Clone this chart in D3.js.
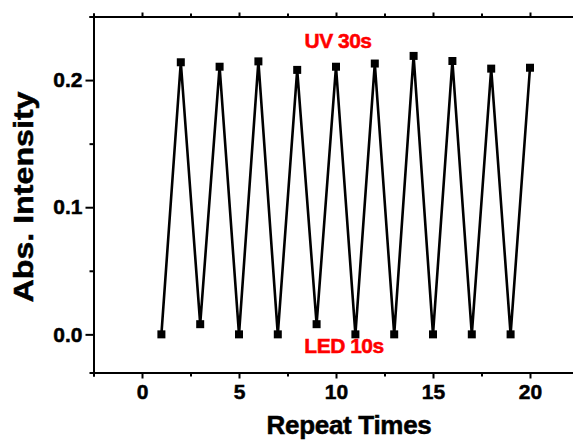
<!DOCTYPE html>
<html>
<head>
<meta charset="utf-8">
<script src="https://cdn.jsdelivr.net/npm/d3@7"></script>
<style>
  body { margin: 0; background: #fff; }
  svg { display: block; font-family: "Liberation Sans", Arial, sans-serif; font-weight: bold; }
  .axis path, .axis line { stroke: #000; stroke-width: 2; }
  .axis text { font-size: 21px; font-weight: bold; fill: #000; stroke: #000; stroke-width: 0.5px; }
  .heavy { stroke-width: 0.5px; }
</style>
</head>
<body>
<svg id="chart" width="573" height="442"></svg>
<script>
// data
var repeatIdx = [1, 2, 3, 4, 5, 6, 7, 8, 9, 10, 11, 12, 13, 14, 15, 16, 17, 18, 19, 20];
var absValues = [0.000, 0.214, 0.008, 0.2105, 0.000, 0.2147, 0.000, 0.208, 0.008, 0.2105,
                 0.000, 0.213, 0.000, 0.219, 0.000, 0.215, 0.000, 0.209, 0.000, 0.2097];
var xTicks = [0, 5, 10, 15, 20];
var xMinor = [-2.5, 2.5, 7.5, 12.5, 17.5, 22.5];
var yTicks = [0.0, 0.1, 0.2];
var yMinor = [0.05, 0.15, 0.25];
var labelUV = "UV 30s";
var labelLED = "LED 10s";

var svg = d3.select("#chart");
var margin = {top: 16.5, left: 93.5, bottom: 372.5, right: 578.5};

var xScale = d3.scaleLinear()
    .domain([-2.5, 22.5])
    .range([margin.left, margin.right]);

var yScale = d3.scaleLinear()
    .domain([-0.03, 0.25])
    .range([margin.bottom, margin.top]);

// bottom axis
svg.append("g")
    .attr("class", "x axis")
    .attr("transform", "translate(0," + margin.bottom + ")")
    .call(d3.axisBottom(xScale).tickValues(xTicks).tickSizeInner(6).tickSizeOuter(0).tickPadding(6).tickFormat(d3.format("d")));
svg.append("g")
    .attr("class", "x axis minor")
    .attr("transform", "translate(0," + margin.bottom + ")")
    .call(d3.axisBottom(xScale).tickValues(xMinor).tickSize(4).tickFormat(""));

// top axis, no labels
svg.append("g")
    .attr("class", "x axis")
    .attr("transform", "translate(0," + margin.top + ")")
    .call(d3.axisTop(xScale).tickValues(xTicks).tickSizeInner(4).tickSizeOuter(0).tickFormat(""));
svg.append("g")
    .attr("class", "x axis minor")
    .attr("transform", "translate(0," + margin.top + ")")
    .call(d3.axisTop(xScale).tickValues(xMinor).tickSize(3).tickFormat(""));

// left axis
svg.append("g")
    .attr("class", "y axis")
    .attr("transform", "translate(" + margin.left + ",0)")
    .call(d3.axisLeft(yScale).tickValues(yTicks).tickSizeInner(8).tickSizeOuter(0).tickPadding(3).tickFormat(d3.format(".1f")));
svg.append("g")
    .attr("class", "y axis minor")
    .attr("transform", "translate(" + margin.left + ",0)")
    .call(d3.axisLeft(yScale).tickValues(yMinor).tickSize(4).tickFormat(""));

// right axis (falls just outside the window)
svg.append("g")
    .attr("class", "y axis")
    .attr("transform", "translate(" + margin.right + ",0)")
    .call(d3.axisRight(yScale).tickValues([]).tickSizeOuter(0));

// line
var line = d3.line()
    .x(function(d, i) { return xScale(repeatIdx[i]); })
    .y(function(d) { return yScale(d); });

svg.append("path")
    .datum(absValues)
    .attr("fill", "none")
    .attr("stroke", "#000")
    .attr("stroke-width", 2.6)
    .attr("stroke-linejoin", "round")
    .attr("d", line);

// square markers
svg.selectAll(".dot")
    .data(absValues)
  .enter().append("rect")
    .attr("class", "dot")
    .attr("x", function(d, i) { return xScale(repeatIdx[i]) - 4; })
    .attr("y", function(d) { return yScale(d) - 4; })
    .attr("width", 8)
    .attr("height", 8)
    .attr("fill", "#000");

// annotations
svg.append("text")
    .attr("class", "heavy")
    .attr("x", 338).attr("y", 48)
    .attr("text-anchor", "middle")
    .attr("font-size", 21)
    .attr("fill", "#ff0000")
    .attr("stroke", "#ff0000")
    .style("letter-spacing", "-0.5px")
    .text(labelUV);

svg.append("text")
    .attr("class", "heavy")
    .attr("x", 344).attr("y", 353)
    .attr("text-anchor", "middle")
    .attr("font-size", 21)
    .attr("fill", "#ff0000")
    .attr("stroke", "#ff0000")
    .style("letter-spacing", "-0.5px")
    .text(labelLED);

// axis titles
svg.append("text")
    .attr("class", "heavy")
    .attr("x", 349).attr("y", 434)
    .attr("text-anchor", "middle")
    .attr("font-size", 26)
    .attr("stroke", "#000")
    .style("letter-spacing", "-0.3px")
    .text("Repeat Times");

svg.append("text")
    .attr("class", "heavy")
    .attr("transform", "translate(33,197) rotate(-90)")
    .attr("text-anchor", "middle")
    .attr("font-size", 27)
    .attr("stroke", "#000")
    .attr("textLength", 211)
    .attr("lengthAdjust", "spacingAndGlyphs")
    .text("Abs. Intensity");
</script>
</body>
</html>
